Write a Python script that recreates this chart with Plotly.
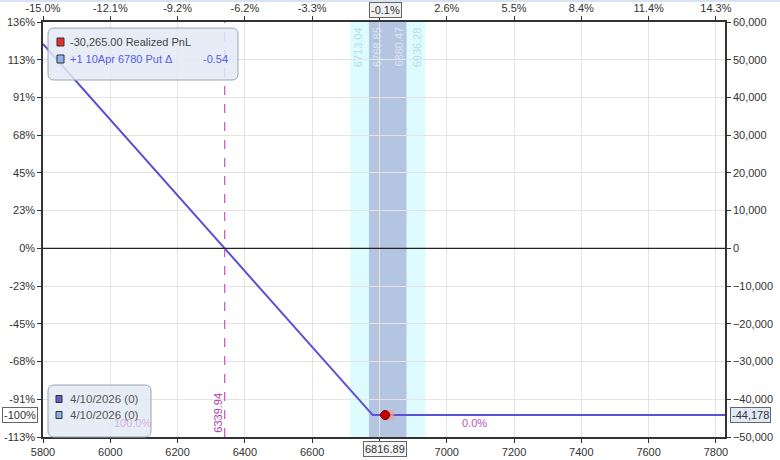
import plotly.graph_objects as go

# payoff of the long put
price_x = [5800, 6780, 7830]
pnl_y = [54200, -44178, -44178]

breakeven = 6339.94
spot = 6816.89
max_loss = -44178
outer_band = [6713.04, 6936.28]
inner_band = [6768.85, 6880.47]

x_ticks = [5800, 6000, 6200, 6400, 6600, 6800, 7000, 7200, 7400, 7600, 7800]
bottom_labels = ["5800", "6000", "6200", "6400", "6600", "", "7000", "7200", "7400", "7600", "7800"]
top_labels = ["-15.0%", "-12.1%", "-9.2%", "-6.2%", "-3.3%", "", "2.6%", "5.5%", "8.4%", "11.4%", "14.3%"]
y_ticks = [60000, 50000, 40000, 30000, 20000, 10000, 0, -10000, -20000, -30000, -40000, -50000]
left_labels = ["136%", "113%", "91%", "68%", "45%", "23%", "0%", "-23%", "-45%", "-68%", "-91%", "-113%"]

legend_top = [("#e8302a", "-30,265.00 Realized PnL", "#444444"),
              ("#8fb0e8", "+1 10Apr 6780 Put Δ", "#5a5af0")]
legend_bottom = [("#6a5fc8", "4/10/2026 (0)"), ("#8fb0e8", "4/10/2026 (0)")]

FONT = "Liberation Sans, Arial, sans-serif"
L, R, T, B = 43, 725, 22, 437


def px(x):
    return (x - L) / (R - L)


def py(y):
    return (B - y) / (B - T)


def rrect(x0, y0, x1, y1, r):
    # rounded rectangle in pixel coords -> paper path
    pts = []
    pts.append(f"M{px(x0 + r)},{py(y0)}")
    pts.append(f"L{px(x1 - r)},{py(y0)}")
    pts.append(f"Q{px(x1)},{py(y0)} {px(x1)},{py(y0 + r)}")
    pts.append(f"L{px(x1)},{py(y1 - r)}")
    pts.append(f"Q{px(x1)},{py(y1)} {px(x1 - r)},{py(y1)}")
    pts.append(f"L{px(x0 + r)},{py(y1)}")
    pts.append(f"Q{px(x0)},{py(y1)} {px(x0)},{py(y1 - r)}")
    pts.append(f"L{px(x0)},{py(y0 + r)}")
    pts.append(f"Q{px(x0)},{py(y0)} {px(x0 + r)},{py(y0)}")
    return " ".join(pts) + " Z"


fig = go.Figure()

fig.add_trace(go.Scatter(x=price_x, y=pnl_y, mode="lines",
                         line=dict(color="#5b50d6", width=2), hoverinfo="skip"))
fig.add_trace(go.Scatter(x=[spot + 12], y=[max_loss], mode="markers",
                         marker=dict(symbol="square", size=10, color="rgba(240,160,140,0.7)"),
                         hoverinfo="skip"))
fig.add_trace(go.Scatter(x=[spot], y=[max_loss], mode="markers",
                         marker=dict(size=9, color="#c80000", line=dict(color="#700000", width=1)),
                         hoverinfo="skip"))
# invisible trace to carry the top and left axes
fig.add_trace(go.Scatter(x=price_x, y=pnl_y, xaxis="x2", yaxis="y2", mode="lines",
                         line=dict(width=0), opacity=0, hoverinfo="skip"))

shapes = [
    dict(type="rect", xref="x", yref="paper", x0=outer_band[0], x1=outer_band[1], y0=0, y1=1,
         fillcolor="#defcff", line=dict(width=0), layer="below"),
    dict(type="rect", xref="x", yref="paper", x0=inner_band[0], x1=inner_band[1], y0=0, y1=1,
         fillcolor="#b3c5e0", line=dict(width=0), layer="below"),
    dict(type="line", xref="x", yref="paper", x0=breakeven, x1=breakeven, y0=0, y1=1,
         line=dict(color="#c860c8", width=1.3, dash="dash")),
    dict(type="line", xref="paper", yref="y", x0=0, x1=1, y0=0, y1=0,
         line=dict(color="#222222", width=1.2)),
    dict(type="path", xref="paper", yref="paper", path=rrect(48, 28, 238, 80, 6),
         fillcolor="rgba(226,234,244,0.85)", line=dict(color="#9aa4b0", width=1)),
    dict(type="path", xref="paper", yref="paper", path=rrect(48, 385, 151, 437, 6),
         fillcolor="rgba(226,234,244,0.85)", line=dict(color="#9aa4b0", width=1)),
    # thin light-blue strip along the very top of the page
    dict(type="rect", xref="paper", yref="paper", x0=px(0), x1=px(780), y0=py(2), y1=py(0),
         fillcolor="#d6e4f2", line=dict(width=0)),
]

annotations = []
for i, (col, txt, tcol) in enumerate(legend_top):
    yc = 42 + i * 17
    shapes.append(dict(type="rect", xref="paper", yref="paper",
                       x0=px(57), x1=px(64), y0=py(yc + 4), y1=py(yc - 4),
                       fillcolor=col, line=dict(color="#333333", width=1)))
    annotations.append(dict(xref="paper", yref="paper", x=px(68), y=py(yc), text=txt,
                            showarrow=False, xanchor="left", yanchor="middle",
                            font=dict(family=FONT, size=11, color=tcol)))
annotations.append(dict(xref="paper", yref="paper", x=px(230), y=py(59), text="-0.54",
                        showarrow=False, xanchor="right", yanchor="middle",
                        font=dict(family=FONT, size=11, color="#5a5af0")))

for i, (col, txt) in enumerate(legend_bottom):
    yc = 399 + i * 16
    shapes.append(dict(type="rect", xref="paper", yref="paper",
                       x0=px(56), x1=px(62), y0=py(yc + 3.5), y1=py(yc - 3.5),
                       fillcolor=col, line=dict(color="#333333", width=1)))
    annotations.append(dict(xref="paper", yref="paper", x=px(68), y=py(yc), text=txt,
                            showarrow=False, xanchor="left", yanchor="middle",
                            font=dict(family=FONT, size=11.5, color="#555555")))

# band labels
for val, col, shift in [(outer_band[0], "#b4dcea", 8), (inner_band[0], "#dde6f2", 8),
                        (inner_band[1], "#dde6f2", -8), (outer_band[1], "#b4dcea", -8)]:
    annotations.append(dict(xref="x", yref="paper", x=val, y=1, xshift=shift, yshift=-3,
                            text=f"{val:.2f}", textangle=-90, showarrow=False,
                            yanchor="top", font=dict(family=FONT, size=11, color=col)))

annotations += [
    dict(xref="x", yref="paper", x=breakeven, y=0, xshift=-7, yshift=2, text=f"{breakeven:.2f}",
         textangle=-90, showarrow=False, yanchor="bottom",
         font=dict(family=FONT, size=11, color="#b040b0")),
    dict(xref="paper", yref="paper", x=px(133), y=py(423), text="100.0%", showarrow=False,
         xanchor="center", yanchor="middle",
         font=dict(family=FONT, size=11, color="rgba(200,120,200,0.55)")),
    dict(xref="paper", yref="paper", x=px(474), y=py(423), text="0.0%", showarrow=False,
         xanchor="center", yanchor="middle",
         font=dict(family=FONT, size=11, color="#c050c0")),
    dict(xref="paper", yref="y", x=0, y=max_loss, xshift=-5, xanchor="right", text="-100%",
         showarrow=False, bgcolor="white", bordercolor="#666666", borderwidth=1, borderpad=1,
         font=dict(family=FONT, size=11, color="#333333")),
    dict(xref="paper", yref="y", x=1, y=max_loss, xshift=5, xanchor="left", text="-44,178",
         showarrow=False, bgcolor="#e0eaf6", bordercolor="#666666", borderwidth=1, borderpad=1,
         font=dict(family=FONT, size=11, color="#333333")),
    dict(xref="x", yref="paper", x=spot, y=0, yshift=-4, yanchor="top", text=f"{spot:.2f}",
         showarrow=False, bgcolor="#f4f6f8", bordercolor="#666666", borderwidth=1, borderpad=1,
         font=dict(family=FONT, size=11, color="#333333")),
    dict(xref="x", yref="paper", x=spot, y=1, yshift=4, yanchor="bottom", text="-0.1%",
         showarrow=False, bgcolor="#eef0f2", bordercolor="#666666", borderwidth=1, borderpad=1,
         font=dict(family=FONT, size=11, color="#333333")),
]

axis_common = dict(showline=True, linecolor="#333333", linewidth=1.5, ticks="outside",
                   ticklen=4, tickcolor="#333333", zeroline=False, automargin=False,
                   tickfont=dict(family=FONT, size=11, color="#333333"))

fig.update_layout(
    width=780, height=460,
    margin=dict(l=L, r=780 - R, t=T, b=460 - B, autoexpand=False),
    paper_bgcolor="white", plot_bgcolor="white",
    showlegend=False,
    xaxis=dict(range=[5800, 7827], tickvals=x_ticks, ticktext=bottom_labels, showgrid=True,
               gridcolor="#e4e4e4", **axis_common),
    xaxis2=dict(range=[5800, 7827], overlaying="x", side="top", tickvals=x_ticks,
                ticktext=top_labels, showgrid=False, **axis_common),
    yaxis=dict(range=[-50000, 60000], side="right", tickvals=y_ticks, tickformat=",",
               showgrid=True, gridcolor="#e4e4e4", **axis_common),
    yaxis2=dict(range=[-50000, 60000], overlaying="y", side="left", tickvals=y_ticks,
                ticktext=left_labels, showgrid=False, **axis_common),
    shapes=shapes,
    annotations=annotations,
)

# drop the default body margin so the 780x460 figure fills the window exactly
fig.write_html("out.html", config={"displayModeBar": False},
               post_script="document.body.style.margin='0';")
